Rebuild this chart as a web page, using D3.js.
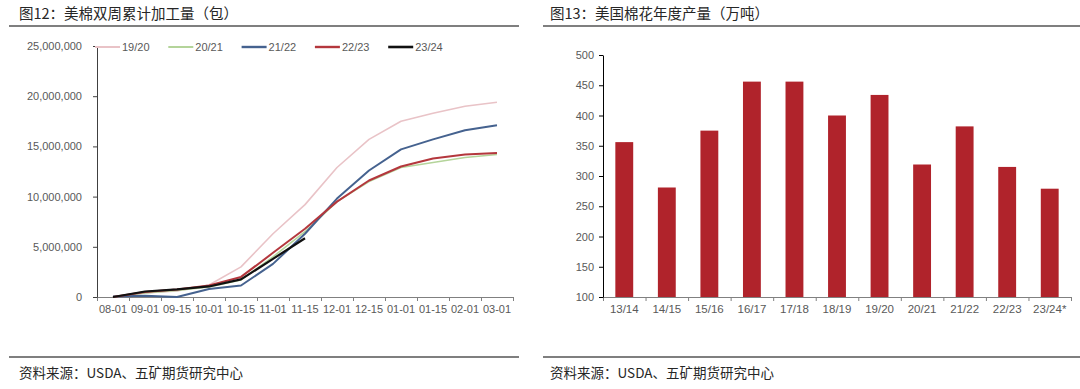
<!DOCTYPE html>
<html>
<head>
<meta charset="utf-8">
<script src="https://cdn.jsdelivr.net/npm/d3@7"></script>
<style>
  body { margin: 0; background: #fff; }
  svg { display: block; }
  .axis text { font-family: "Liberation Sans", Arial, sans-serif; font-size: 11px; fill: #595959; }
  .title { font-family: "Noto Sans CJK SC", sans-serif; font-size: 14.5px; fill: #262626; }
  .source { font-family: "Noto Sans CJK SC", sans-serif; font-size: 13.5px; fill: #262626; }
  .legend text { font-family: "Liberation Sans", Arial, sans-serif; font-size: 11px; fill: #595959; }
</style>
</head>
<body>
<svg id="chart" width="1080" height="389"></svg>
<script>
/*
  Two panels: cumulative biweekly ginning (lines) and US cotton output (bars)
*/

// Left panel data (bales)
const dates = ['08-01', '09-01', '09-15', '10-01', '10-15', '11-01', '11-15',
  '12-01', '12-15', '01-01', '01-15', '02-01', '03-01'];
const seasons = ['19/20', '20/21', '21/22', '22/23', '23/24'];
const ginned1920 = [0, 400000, 600000, 1200000, 3000000, 6300000, 9200000,
  12900000, 15700000, 17500000, 18300000, 19000000, 19400000];
const ginned2021 = [0, 400000, 650000, 1000000, 1700000, 4000000, 6500000,
  9500000, 11500000, 12900000, 13400000, 13900000, 14200000];
const ginned2122 = [50000, 120000, 0, 800000, 1150000, 3300000, 6300000,
  9800000, 12600000, 14700000, 15700000, 16600000, 17100000];
const ginned2223 = [0, 500000, 750000, 1150000, 2000000, 4400000, 6800000,
  9500000, 11600000, 13000000, 13800000, 14200000, 14350000];
const ginned2324 = [0, 550000, 750000, 1050000, 1750000, 3800000, 5850000];

// Right panel data (10k tonnes)
const years = ['13/14', '14/15', '15/16', '16/17', '17/18', '18/19', '19/20',
  '20/21', '21/22', '22/23', '23/24*'];
const production = [356, 281, 375, 456, 456, 400, 434, 319, 382, 315, 279];

const seriesColors = ['#e9c3c7', '#b4d49a', '#45628f', '#b4373d', '#111111'];
const seriesWidths = [1.6, 1.6, 2, 2, 2.2];
const barColor = '#b0232b';

const svg = d3.select('#chart');

/**
 * Panel frame: title, rules and source note
 */
function drawFrame(x0, x1, titleX, title) {
  svg.append('text').attr('class', 'title')
    .attr('x', titleX).attr('y', 19).text(title);
  svg.append('line')
    .attr('x1', x0).attr('x2', x1).attr('y1', 26).attr('y2', 26)
    .attr('stroke', '#7f7f7f').attr('stroke-width', 2);
  svg.append('line')
    .attr('x1', x0).attr('x2', x1).attr('y1', 357).attr('y2', 357)
    .attr('stroke', '#7f7f7f').attr('stroke-width', 2);
  svg.append('text').attr('class', 'source')
    .attr('x', titleX).attr('y', 378).text('资料来源：USDA、五矿期货研究中心');
}

drawFrame(9, 519, 19, '图12：美棉双周累计加工量（包）');
drawFrame(543, 1080, 550, '图13：美国棉花年度产量（万吨）');

/*
 * LEFT: line chart
 */
const left = { x0: 97, x1: 513, top: 46, bottom: 297 };
const scale = {};
scale.x = d3.scaleBand().domain(dates).range([left.x0, left.x1]);
scale.xEdge = d3.scaleLinear().domain([0, dates.length]).range([left.x0, left.x1]);
scale.y = d3.scaleLinear().domain([0, 25000000]).range([left.bottom, left.top]);

const dom = {};
dom.left = svg.append('g');

dom.left.append('g')
  .attr('class', 'axis')
  .attr('transform', `translate(0, ${left.bottom})`)
  .call(d3.axisBottom(scale.x).tickSize(0).tickPadding(8))
  .call(g => g.select('.domain').remove());

dom.left.append('g')
  .attr('class', 'axis')
  .attr('transform', `translate(0, ${left.bottom})`)
  .call(d3.axisBottom(scale.xEdge).tickValues(d3.range(dates.length + 1))
    .tickFormat('').tickSize(4).tickSizeOuter(0))
  .call(g => g.selectAll('path, line').attr('stroke', '#808080'));

dom.left.append('g')
  .attr('class', 'axis')
  .attr('transform', `translate(${left.x0}, 0)`)
  .call(d3.axisLeft(scale.y).ticks(5).tickFormat(d3.format(','))
    .tickSize(4).tickSizeOuter(0).tickPadding(11))
  .call(g => g.selectAll('path, line').attr('stroke', '#404040'));

const series = [ginned1920, ginned2021, ginned2122, ginned2223, ginned2324];
const line = d3.line()
  .x((d, i) => scale.x(dates[i]) + scale.x.bandwidth() / 2)
  .y(d => scale.y(d));

dom.left.selectAll('path.series')
  .data(series)
  .join('path')
  .attr('class', 'series')
  .attr('fill', 'none')
  .attr('stroke', (d, i) => seriesColors[i])
  .attr('stroke-width', (d, i) => seriesWidths[i])
  .attr('stroke-linejoin', 'round')
  .attr('d', line);

// Legend across the top of the plot
const legend = dom.left.append('g').attr('class', 'legend')
  .selectAll('g')
  .data(seasons)
  .join('g')
  .attr('transform', (d, i) => `translate(${95 + i * 73.3}, 47)`);

legend.append('line')
  .attr('x1', 0).attr('x2', 25)
  .attr('stroke', (d, i) => seriesColors[i])
  .attr('stroke-width', (d, i) => seriesWidths[i] + 0.4);
legend.append('text')
  .attr('x', 27).attr('dy', '0.35em')
  .text(d => d);

/*
 * RIGHT: bar chart
 */
const right = { x0: 603, x1: 1071, top: 55, bottom: 297 };
scale.bx = d3.scaleBand().domain(years).range([right.x0, right.x1])
  .paddingInner(0.58).paddingOuter(0.29);
scale.bxEdge = d3.scaleLinear().domain([0, years.length]).range([right.x0, right.x1]);
scale.by = d3.scaleLinear().domain([100, 500]).range([right.bottom, right.top]);

dom.right = svg.append('g');

dom.right.selectAll('rect')
  .data(production)
  .join('rect')
  .attr('x', (d, i) => scale.bx(years[i]))
  .attr('width', scale.bx.bandwidth())
  .attr('y', d => scale.by(d))
  .attr('height', d => right.bottom - scale.by(d))
  .attr('fill', barColor);

dom.right.append('g')
  .attr('class', 'axis')
  .attr('transform', `translate(0, ${right.bottom})`)
  .call(d3.axisBottom(scale.bx).tickSize(0).tickPadding(8))
  .call(g => g.select('.domain').remove())
  .call(g => g.selectAll('text').style('font-size', '11.5px'));

dom.right.append('g')
  .attr('class', 'axis')
  .attr('transform', `translate(0, ${right.bottom})`)
  .call(d3.axisBottom(scale.bxEdge).tickValues(d3.range(years.length + 1))
    .tickFormat('').tickSize(4).tickSizeOuter(0))
  .call(g => g.selectAll('path, line').attr('stroke', '#808080'));

dom.right.append('g')
  .attr('class', 'axis')
  .attr('transform', `translate(${right.x0}, 0)`)
  .call(d3.axisLeft(scale.by).tickValues(d3.range(100, 501, 50))
    .tickSize(4).tickSizeOuter(0).tickPadding(5))
  .call(g => g.selectAll('path, line').attr('stroke', '#000'));
</script>
</body>
</html>
